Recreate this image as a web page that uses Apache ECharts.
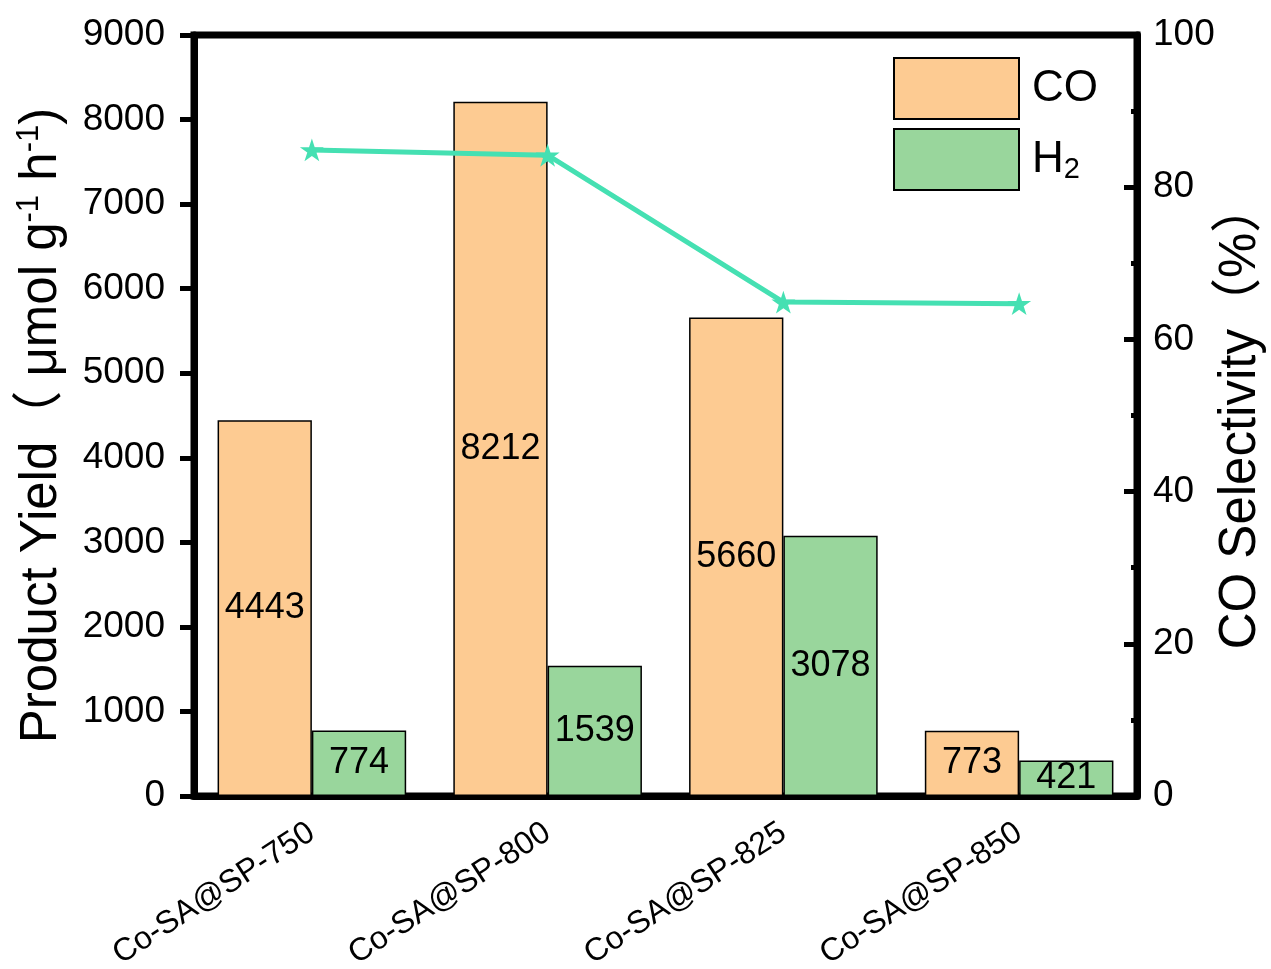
<!DOCTYPE html>
<html>
<head>
<meta charset="utf-8">
<script src="https://cdn.jsdelivr.net/npm/echarts@6/dist/echarts.min.js"></script>
<style>
html,body{margin:0;padding:0;background:#fff;}
#chart{width:1271px;height:969px;}
</style>
</head>
<body>
<div id="chart"></div>
<script>
var categories = ['Co-SA@SP-750', 'Co-SA@SP-800', 'Co-SA@SP-825', 'Co-SA@SP-850'];
var coYield = [4443, 8212, 5660, 773];
var h2Yield = [774, 1539, 3078, 421];
var coSelectivity = [84.9, 84.2, 64.9, 64.7];

var FONT = 'Liberation Sans, Arial, Noto Sans CJK SC, sans-serif';
var STAR = 'path://M100,0L122.5,69.1L195.1,69.1L136.3,111.8L158.8,180.9L100,138.2L41.2,180.9L63.7,111.8L4.9,69.1L77.5,69.1Z';

var chart = echarts.init(document.getElementById('chart'));
chart.setOption({
  backgroundColor: '#fff',
  animation: false,
  textStyle: { fontFamily: FONT, color: '#000' },
  grid: {
    left: 194, right: 134, top: 35, bottom: 173,
    containLabel: false,
    outerBoundsMode: 'none',
    show: true, borderColor: '#000', borderWidth: 7
  },
  legend: {
    data: ['CO', 'H2'],
    orient: 'vertical',
    left: 893, top: 57,
    padding: 0,
    itemWidth: 125, itemHeight: 61, itemGap: 8,
    icon: 'rect',
    formatter: function (n) { return n === 'H2' ? '{t|H}{s|2}' : '{t|CO}'; },
    textStyle: {
      padding: [0, 0, 0, 8],
      rich: {
        t: { fontSize: 44, lineHeight: 50, color: '#000', fontFamily: FONT },
        s: { fontSize: 29, lineHeight: 14, verticalAlign: 'bottom', color: '#000', fontFamily: FONT }
      }
    }
  },
  xAxis: {
    type: 'category',
    data: categories,
    axisLine: { lineStyle: { color: '#000', width: 7 } },
    axisTick: { show: false },
    axisLabel: { rotate: 33, fontSize: 32, color: '#000', margin: 34, interval: 0, fontFamily: FONT },
    splitLine: { show: false }
  },
  yAxis: [{
    type: 'value', min: 0, max: 9000, interval: 1000,
    name: '{t|Product Yield（ μmol g}{s|-1}{t| h}{s|-1}{t|)}',
    nameLocation: 'middle', nameGap: 124, nameMoveOverlap: false,
    nameTextStyle: {
      padding: [0, 20, 0, 0],
      rich: {
        t: { fontSize: 51, lineHeight: 56, color: '#000', fontFamily: FONT },
        s: { fontSize: 31, lineHeight: 20, verticalAlign: 'top', color: '#000', fontFamily: FONT }
      }
    },
    axisLine: { show: true, lineStyle: { color: '#000', width: 7 } },
    axisTick: { show: true, length: 14, lineStyle: { color: '#000', width: 5 } },
    axisLabel: { fontSize: 37, color: '#000', margin: 29, fontFamily: FONT,
      formatter: function (v) { return String(v); } },
    splitLine: { show: false }
  }, {
    type: 'value', min: 0, max: 100, interval: 20, position: 'right',
    name: 'CO Selectivity（%）',
    nameLocation: 'middle', nameGap: 76, nameMoveOverlap: false,
    nameTextStyle: { fontSize: 51, lineHeight: 56, color: '#000', fontFamily: FONT },
    axisLine: { show: true, lineStyle: { color: '#000', width: 7 } },
    axisTick: { show: true, inside: true, length: 13, lineStyle: { color: '#000', width: 5 } },
    minorTick: { show: true, splitNumber: 2, length: 6, lineStyle: { color: '#000', width: 5 } },
    axisLabel: { fontSize: 37, color: '#000', margin: 16, fontFamily: FONT,
      formatter: function (v) { return String(v); } },
    splitLine: { show: false }
  }],
  series: [{
    name: 'CO', type: 'bar', data: coYield, yAxisIndex: 0,
    barGap: '0%', barCategoryGap: '20%',
    itemStyle: { color: '#FDCB92', borderColor: '#000', borderWidth: 1.5 },
    label: { show: true, position: 'inside', fontSize: 36, color: '#000', fontFamily: FONT }
  }, {
    name: 'H2', type: 'bar', data: h2Yield, yAxisIndex: 0,
    barGap: '0%', barCategoryGap: '20%',
    itemStyle: { color: '#99D69C', borderColor: '#000', borderWidth: 1.5 },
    label: { show: true, position: 'inside', fontSize: 36, color: '#000', fontFamily: FONT }
  }, {
    name: 'Selectivity', type: 'line', data: coSelectivity, yAxisIndex: 1,
    symbol: STAR, symbolSize: 24, symbolKeepAspect: true,
    lineStyle: { color: '#45E0B2', width: 5 },
    itemStyle: { color: '#45E0B2' },
    z: 5
  }]
});
</script>
</body>
</html>
